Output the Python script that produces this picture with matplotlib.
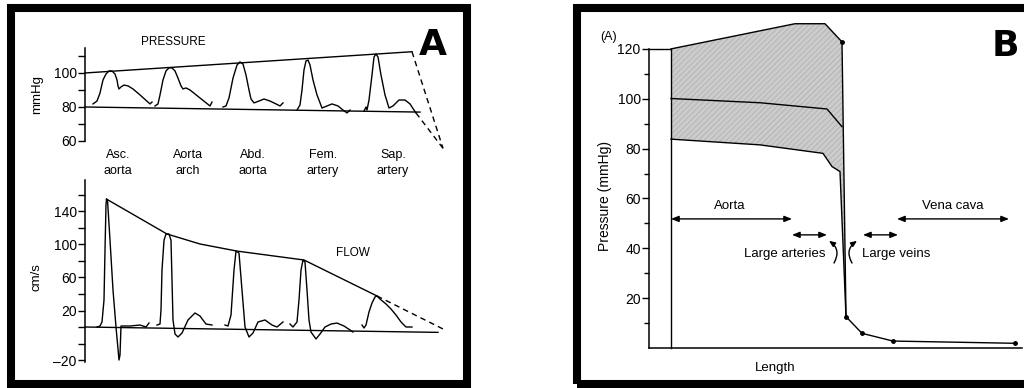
import matplotlib
matplotlib.use('Agg')
import matplotlib.pyplot as plt
from matplotlib.patches import Rectangle

# --- data (x = position along the tree, arbitrary units) ---
# panel A, pressure (mmHg)
p_asc_x = [93, 97, 100, 103, 106, 109, 112, 115, 117, 118, 119, 121, 124, 128, 133, 140, 150, 152]
p_asc_y = [81.8, 83.5, 88.2, 95.9, 99.4, 101.2, 101.2, 99.4, 95.9, 92.4, 90.6, 91.8, 92.9, 92.4, 90.6, 87.1, 81.8, 82.9]
p_arch_x = [155, 158, 160, 163, 166, 169, 172, 175, 178, 181, 183, 186, 190, 200, 210, 212]
p_arch_y = [80.6, 81.8, 87.1, 95.9, 101.2, 103, 103, 101.2, 97, 92.4, 90.6, 91.2, 90, 85.3, 80.6, 82.9]
p_abd_x = [223, 226, 229, 233, 237, 240, 243, 246, 249, 251, 254, 259, 264, 270, 276, 280, 283]
p_abd_y = [80, 80.6, 85.3, 97, 104.7, 106.5, 105.3, 98.8, 90, 84.7, 82.4, 83.5, 84.7, 83.5, 81.8, 80.6, 82.4]
p_fem_x = [297, 300, 302, 304, 306, 308, 310, 313, 317, 322, 327, 332, 338, 343, 347, 350]
p_fem_y = [78.2, 81.2, 90, 101.8, 107.1, 107.6, 104.7, 95.9, 87.1, 79.4, 80.6, 81.8, 80.6, 78.2, 76.5, 78.2]
p_sap_x = [364, 366, 367, 369, 372, 374, 376, 378, 381, 385, 389, 393, 399, 405, 410, 414, 416]
p_sap_y = [77.6, 80, 78.2, 84.1, 98.8, 109.4, 111.2, 109.4, 98.8, 87.1, 79.4, 80.6, 84.1, 84.1, 81.8, 78.2, 76.5]
p_top_x, p_top_y = [85, 412], [100, 112.5]
p_bot_x, p_bot_y = [85, 420], [80, 77]
p_dash1_x, p_dash1_y = [412, 443], [112.5, 55.7]
p_dash2_x, p_dash2_y = [416, 443], [76.5, 55.7]
sites = ['Asc.\naorta', 'Aorta\narch', 'Abd.\naorta', 'Fem.\nartery', 'Sap.\nartery']
site_x = [118, 188, 253, 323, 393]

# panel A, flow (cm/s)
f_asc_x = [97, 100, 102, 104, 105, 106, 106.5, 107.5, 110, 113, 116, 119, 120, 121, 130, 140, 146, 149]
f_asc_y = [0, 1.2, 6.1, 32.7, 93.3, 147.9, 155.1, 153.9, 105.4, 44.8, 0, -40, -33.9, 1.2, 1.2, 2.4, 0, 4.8]
f_arch_x = [157, 160, 161, 162, 164, 166, 169, 171, 172, 173, 175, 178, 182, 188, 195, 200, 206, 212]
f_arch_y = [2.4, 3.6, 20.6, 69, 105, 112.7, 112.7, 105, 57, 8.5, -8.5, -12.1, -7.3, 8.5, 17, 13.3, 3.6, 2.4]
f_abd_x = [225, 228, 231, 234, 236, 239, 242, 245, 249, 253, 258, 265, 272, 277, 283]
f_abd_y = [2.4, 1.2, 14.5, 69, 92, 89.7, 44.8, 0, -12.1, -7.3, 6.1, 8.5, 2.4, 0, 6.1]
f_fem_x = [290, 293, 297, 299, 301, 303, 305, 307, 309, 311, 316, 320, 325, 331, 337, 344, 350, 353]
f_fem_y = [3.6, 0, 6.1, 32.7, 69, 81.2, 78.8, 44.8, 8.5, -6.1, -14.5, -8.5, 0, 3.6, 4.8, 1.2, -3.6, -6.1]
f_sap_x = [362, 364, 366, 369, 372, 375, 377, 380, 386, 391, 396, 401, 406, 412]
f_sap_y = [2.4, -1.2, 2.4, 18.2, 29.1, 36.4, 37.6, 33.9, 27.9, 21.8, 14.5, 6.1, 0, 0]
f_env_x = [106.5, 167, 200, 237, 304, 377]
f_env_y = [155, 112.7, 100.6, 92, 81.2, 37.6]
f_dash_x, f_dash_y = [377, 445], [37.6, -3.6]
f_base_x, f_base_y = [85, 438], [0, -6.5]

# panel B, pressure along the circulation (mmHg)
b_top_x = [671, 795, 825, 842]
b_top_y = [120, 130.1, 130.1, 122.8]
b_mean_x = [671, 760, 827, 842]
b_mean_y = [100.1, 98.4, 95.9, 88.8]
b_bot_x = [671, 760, 823, 832, 840]
b_bot_y = [83.8, 81.5, 78.1, 72.8, 70.8]
b_drop_x, b_drop_y = 846, 12.6
b_vein_x = [846, 862, 893, 1015]
b_vein_y = [12.6, 5.9, 2.8, 1.9]
b_start_x, b_start_y = [649, 671, 671], [120, 120, 0]

W, H = 1024, 388
plt.rcParams['font.family'] = ['Liberation Sans', 'DejaVu Sans']
narrow = ['Liberation Sans', 'DejaVu Sans']

fig = plt.figure(figsize=(W / 100, H / 100), dpi=100)


def px_axes(x0, y0, x1, y1):
    return fig.add_axes([x0 / W, 1 - y1 / H, (x1 - x0) / W, (y1 - y0) / H])


def style(ax, lo, hi, major, minor, size):
    for s in ['top', 'right', 'bottom']:
        ax.spines[s].set_visible(False)
    ax.spines['left'].set_bounds(lo, hi)
    ax.spines['left'].set_linewidth(1.1)
    ax.set_xticks([])
    ax.set_yticks(major)
    ax.set_yticks(minor, minor=True)
    ax.tick_params(axis='y', which='both', direction='out', width=1, pad=1, labelsize=size)
    ax.tick_params(axis='y', which='major', length=5)
    ax.tick_params(axis='y', which='minor', length=5)
    ax.patch.set_visible(False)


kw = dict(color='black', lw=1.0)

# --- A: pressure ---
ax1 = px_axes(85, 40, 450, 150)
ax1.set_xlim(85, 450)
ax1.set_ylim(54.7, 119.4)
for xs, ys in [(p_asc_x, p_asc_y), (p_arch_x, p_arch_y), (p_abd_x, p_abd_y),
               (p_fem_x, p_fem_y), (p_sap_x, p_sap_y), (p_top_x, p_top_y), (p_bot_x, p_bot_y)]:
    ax1.plot(xs, ys, clip_on=False, **kw)
ax1.plot(p_dash1_x, p_dash1_y, ls=(0, (4, 3)), clip_on=False, **kw)
ax1.plot(p_dash2_x, p_dash2_y, ls=(0, (4, 3)), clip_on=False, **kw)
style(ax1, 60, 114.7, [60, 80, 100], [70, 90, 110], 10)
ax1.set_ylabel('mmHg', fontsize=9.5)
ax1.yaxis.set_label_coords((43 - 85) / 365, 1 - (95 - 40) / 110)
ax1.text(173, 100 + (73 - 42) * 20 / 34, 'PRESSURE', ha='center', va='center', fontsize=8.5)
for sx, lab in zip(site_x, sites):
    ax1.text(sx, 100 - (163 - 73) * 20 / 34, lab, ha='center', va='center',
             fontsize=9, linespacing=1.35)

# --- A: flow ---
ax2 = px_axes(85, 175, 450, 370)
ax2.set_xlim(85, 450)
ax2.set_ylim(-52.1, 184.2)
for xs, ys in [(f_asc_x, f_asc_y), (f_arch_x, f_arch_y), (f_abd_x, f_abd_y),
               (f_fem_x, f_fem_y), (f_sap_x, f_sap_y), (f_env_x, f_env_y), (f_base_x, f_base_y)]:
    ax2.plot(xs, ys, clip_on=False, **kw)
ax2.plot(f_dash_x, f_dash_y, ls=(0, (4, 3)), clip_on=False, **kw)
style(ax2, -42, 178, [140, 100, 60, 20, -40], [160, 120, 80, 40, 0, -20], 10)
ax2.set_yticklabels(['140', '100', '60', '20', '\u201220'])
ax2.set_ylabel('cm/s', fontsize=9.5)
ax2.yaxis.set_label_coords((43 - 85) / 365, 1 - (277 - 175) / 195)
ax2.text(353, (327 - 253) * 1.2121, 'FLOW', ha='center', va='center', fontsize=8.5)

# --- B ---
ax3 = px_axes(649, 15, 1022, 360)
ax3.set_xlim(649, 1022)
ax3.set_ylim(-4.8, 133.6)
poly_x = b_top_x + [b_drop_x] + b_bot_x[::-1]
poly_y = b_top_y + [b_drop_y] + b_bot_y[::-1]
ax3.fill(poly_x, poly_y, facecolor='#cdcdcd', edgecolor='#bababa', hatch='//////', lw=0)
ax3.plot(b_top_x + [b_drop_x], b_top_y + [b_drop_y], **kw)
ax3.plot(b_mean_x, b_mean_y, **kw)
ax3.plot(b_bot_x + [b_drop_x], b_bot_y + [b_drop_y], **kw)
ax3.plot(b_start_x, b_start_y, **kw)
ax3.plot(b_vein_x, b_vein_y, marker='o', ms=2.5, **kw)
ax3.plot([b_top_x[-1]], [b_top_y[-1]], marker='o', ms=2.5, color='black')
style(ax3, 0, 120, [20, 40, 60, 80, 100, 120], [10, 30, 50, 70, 90, 110], 10)
ax3.tick_params(axis='y', which='minor', length=3.5)
ax3.spines['bottom'].set_visible(True)
ax3.spines['bottom'].set_position(('data', 0))
ax3.spines['bottom'].set_linewidth(1.1)
ax3.set_ylabel('Pressure (mmHg)', fontsize=10)
ax3.yaxis.set_label_coords((612 - 649) / 373, 1 - (196 - 15) / 345)

arr = dict(arrowstyle='<|-|>,head_length=0.45,head_width=0.18', color='black', lw=1,
           shrinkA=0, shrinkB=0)
ax3.annotate('', xy=(671, 51.8), xytext=(792, 51.8), arrowprops=arr)
ax3.annotate('', xy=(792, 45.4), xytext=(827, 45.4), arrowprops=arr)
ax3.annotate('', xy=(863, 45.4), xytext=(898, 45.4), arrowprops=arr)
ax3.annotate('', xy=(897, 51.8), xytext=(1009, 51.8), arrowprops=arr)
curl = dict(arrowstyle='-|>,head_length=0.35,head_width=0.15', color='black', lw=1,
            shrinkA=0, shrinkB=0)
ax3.annotate('', xy=(829, 43), xytext=(834, 34.1),
             arrowprops=dict(connectionstyle='arc3,rad=0.45', **curl))
ax3.annotate('', xy=(857, 43), xytext=(852, 34.1),
             arrowprops=dict(connectionstyle='arc3,rad=-0.45', **curl))
tk = dict(fontsize=9.5, va='center')
ax3.text(730, 57, 'Aorta', ha='center', **tk)
ax3.text(953, 57, 'Vena cava', ha='center', **tk)
ax3.text(825, 37.7, 'Large arteries', ha='right', **tk)
ax3.text(862, 37.7, 'Large veins', ha='left', **tk)
ax3.text(775, (348 - 368) * 0.40134, 'Length', ha='center', **tk)
ax3.text(609, 120 + (49 - 37) * 0.40134, '(A)', ha='center', fontsize=9, va='center')

# --- panel frames and letters ---
fig.add_artist(Rectangle((11 / W, 1 - 384 / H), (467 - 11) / W, (384 - 8) / H,
                         transform=fig.transFigure, fill=False, lw=5.8, color='black'))
fig.add_artist(Rectangle((577 / W, 1 - 384 / H), (1040 - 577) / W, (384 - 8) / H,
                         transform=fig.transFigure, fill=False, lw=5.8, color='black'))
fig.text(433 / W, 1 - 45 / H, 'A', fontsize=26, fontweight='bold', family='DejaVu Sans',
         ha='center', va='center')
fig.text(1005 / W, 1 - 46 / H, 'B', fontsize=26, fontweight='bold', family='DejaVu Sans',
         ha='center', va='center')

fig.savefig('out.png', dpi=100)
